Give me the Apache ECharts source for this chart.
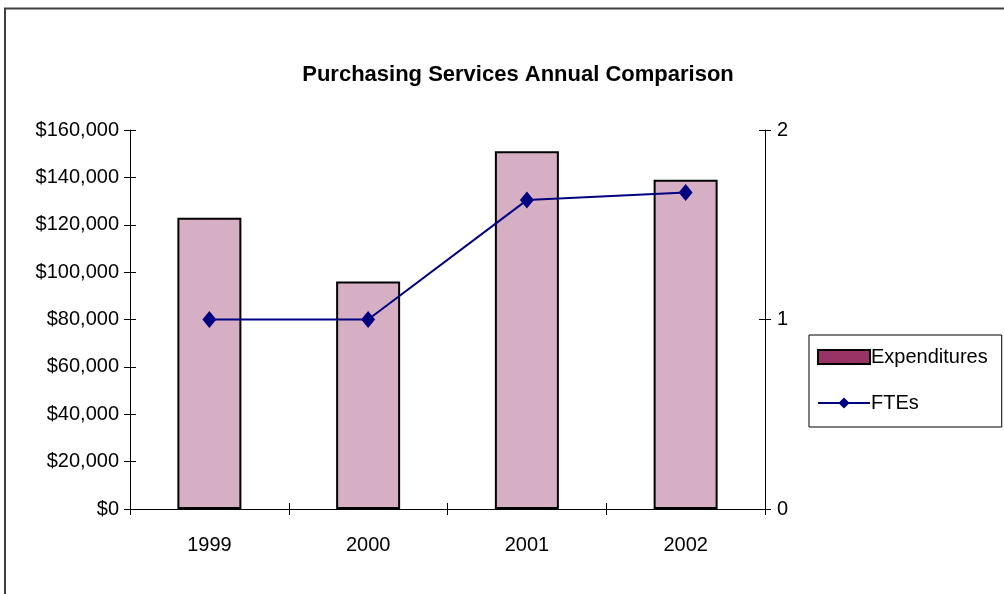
<!DOCTYPE html>
<html>
<head>
<meta charset="utf-8">
<script src="https://cdn.jsdelivr.net/npm/echarts@6/dist/echarts.min.js"></script>
<style>
  html, body { margin: 0; padding: 0; background: #fff; }
  #chart { width: 1004px; height: 594px; }
</style>
</head>
<body>
<div id="chart"></div>
<script>
// Annual purchasing figures
const years = ['1999', '2000', '2001', '2002'];
const expenditures = [123000, 96000, 151000, 139000];
const ftes = [1, 1, 1.63, 1.67];

const FONT = '"Liberation Sans", Arial, sans-serif';

const chart = echarts.init(document.getElementById('chart'), null, { renderer: 'canvas' });

// Tick marks cross each axis line: outer ticks on the main axes,
// inner ticks on label-less twin axes sharing the same scale.
const tick = { show: true, length: 6, lineStyle: { color: '#000' } };

chart.setOption({
  backgroundColor: '#ffffff',
  animation: false,
  title: {
    text: 'Purchasing Services Annual Comparison',
    left: 513,
    textAlign: 'center',
    top: 59,
    textStyle: { fontFamily: FONT, fontSize: 22, fontWeight: 'bold', color: '#000' }
  },
  graphic: [{
    type: 'polyline',
    shape: { points: [[5, 600], [5, 8.5], [1010, 8.5]] },
    style: { stroke: '#404040', lineWidth: 2, fill: null },
    silent: true
  }],
  legend: {
    orient: 'vertical',
    left: 809,
    top: 335,
    width: 191,
    padding: [12, 14, 14, 8],
    itemGap: 26,
    itemWidth: 52,
    itemHeight: 14,
    borderColor: '#000',
    borderWidth: 1,
    textStyle: { fontFamily: FONT, fontSize: 20, color: '#000', padding: [0, 0, 0, -4] },
    data: [
      { name: 'Expenditures', icon: 'rect', itemStyle: { color: '#993366', borderColor: '#000', borderWidth: 2 } },
      { name: 'FTEs' }
    ]
  },
  grid: { left: 130, right: 239, top: 130, bottom: 85 },
  xAxis: [{
    type: 'category',
    data: years,
    axisLine: { lineStyle: { color: '#000', width: 1 } },
    axisTick: tick,
    axisLabel: { fontFamily: FONT, fontSize: 20, color: '#000', margin: 26 }
  }, {
    type: 'category',
    data: years,
    position: 'bottom',
    axisLine: { show: false },
    axisTick: { show: true, inside: true, length: 6, lineStyle: { color: '#000' } },
    axisLabel: { show: false }
  }],
  yAxis: [{
    type: 'value',
    min: 0,
    max: 160000,
    interval: 20000,
    axisLine: { show: true, lineStyle: { color: '#000' } },
    axisTick: tick,
    splitLine: { show: false },
    axisLabel: {
      fontFamily: FONT, fontSize: 20, color: '#000', margin: 11,
      formatter: v => '$' + v.toLocaleString('en-US')
    }
  }, {
    type: 'value',
    min: 0,
    max: 2,
    interval: 1,
    position: 'right',
    axisLine: { show: true, lineStyle: { color: '#000' } },
    axisTick: tick,
    splitLine: { show: false },
    axisLabel: { fontFamily: FONT, fontSize: 20, color: '#000', margin: 12 }
  }, {
    type: 'value',
    min: 0,
    max: 160000,
    interval: 20000,
    position: 'left',
    axisLine: { show: false },
    axisTick: { show: true, inside: true, length: 6, lineStyle: { color: '#000' } },
    axisLabel: { show: false },
    splitLine: { show: false }
  }, {
    type: 'value',
    min: 0,
    max: 2,
    interval: 1,
    position: 'right',
    axisLine: { show: false },
    axisTick: { show: true, inside: true, length: 6, lineStyle: { color: '#000' } },
    axisLabel: { show: false },
    splitLine: { show: false }
  }],
  series: [{
    name: 'Expenditures',
    type: 'bar',
    data: expenditures,
    barWidth: 64,
    itemStyle: { color: '#d6afc4', borderColor: '#000', borderWidth: 2 }
  }, {
    name: 'FTEs',
    type: 'line',
    yAxisIndex: 1,
    data: ftes,
    symbol: 'diamond',
    symbolSize: [14, 17],
    lineStyle: { color: '#000080', width: 2 },
    itemStyle: { color: '#000080' }
  }]
});
</script>
</body>
</html>
